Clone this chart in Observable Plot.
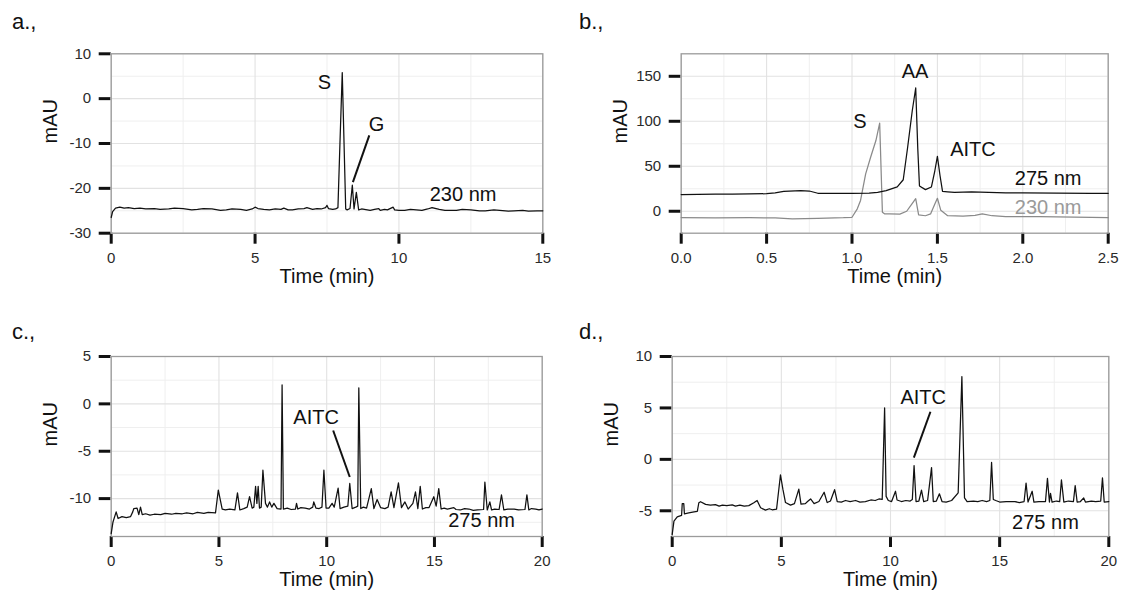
<!DOCTYPE html>
<html>
<head>
<meta charset="utf-8">
<script src="https://cdn.jsdelivr.net/npm/d3@7"></script>
<script src="https://cdn.jsdelivr.net/npm/@observablehq/plot@0.6"></script>
<style>
  html, body { margin: 0; padding: 0; background: #fff; }
  #root { position: relative; width: 1123px; height: 596px; overflow: hidden; background: #fff;
          font-family: "Liberation Sans", Arial, sans-serif; }
  .cell { position: absolute; }
  .plabel { position: absolute; font-size: 22px; line-height: 22px; color: #111; }
  #root svg g[aria-label="x-axis tick"] path, #root svg g[aria-label="y-axis tick"] path { stroke-width: 3px; stroke: #111; }
  #root svg g[aria-label="x-axis tick label"] text, #root svg g[aria-label="y-axis tick label"] text { font-size: 15px; fill: #2a2a2a; }
</style>
</head>
<body>
<div id="root"></div>
<script>
// ---------------- Data ----------------
// Panel a: 230 nm chromatogram
const aTime = [0, 0.05, 0.15, 0.3, 0.45, 0.6, 0.8, 1.0, 1.2, 1.5, 1.7, 2.0, 2.2, 2.5, 2.8, 3.0, 3.2, 3.5, 3.8, 4.0, 4.2, 4.5, 4.7, 4.9, 5.0, 5.1, 5.3, 5.5, 5.7, 5.9, 6.0, 6.15, 6.3, 6.5, 6.7, 6.8, 7.0, 7.15, 7.3, 7.45, 7.5, 7.55, 7.7, 7.8, 7.88, 7.95, 8.03, 8.15, 8.2, 8.3, 8.38, 8.44, 8.52, 8.6, 8.7, 8.8, 9.0, 9.15, 9.3, 9.35, 9.5, 9.6, 9.8, 9.85, 10.0, 10.2, 10.4, 10.6, 10.8, 11.0, 11.15, 11.4, 11.6, 12.0, 12.2, 12.5, 12.8, 13.0, 13.3, 13.5, 13.8, 14.0, 14.3, 14.5, 14.8, 15.0];
const aMAU  = [-26.5, -25.2, -24.4, -24.2, -24.4, -24.3, -24.5, -24.4, -24.6, -24.5, -24.7, -24.6, -24.4, -24.5, -24.8, -24.7, -24.5, -24.6, -24.9, -24.8, -24.6, -24.7, -24.9, -24.6, -24.2, -24.5, -24.7, -24.8, -24.6, -24.7, -24.4, -24.8, -24.8, -24.6, -24.5, -24.3, -24.7, -24.5, -24.6, -24.3, -23.8, -24.5, -24.7, -24.6, -24.3, -10, 5.8, -24.6, -24.8, -24.5, -19.3, -24.6, -20.9, -24.8, -24.6, -24.7, -24.9, -24.7, -24.5, -24.9, -24.7, -24.8, -24.2, -24.8, -24.9, -24.9, -24.7, -24.8, -24.9, -24.6, -24.3, -24.7, -24.9, -24.9, -24.7, -24.8, -25.0, -25.0, -24.8, -24.9, -25.1, -25.0, -24.9, -25.1, -25.0, -25.0];

// Panel b: 275 nm (black) and 230 nm (grey)
const b275Time = [0, 0.1, 0.2, 0.3, 0.4, 0.5, 0.55, 0.6, 0.7, 0.75, 0.8, 0.9, 1.0, 1.1, 1.15, 1.2, 1.265, 1.3, 1.325, 1.353, 1.373, 1.385, 1.395, 1.43, 1.465, 1.485, 1.5, 1.515, 1.53, 1.56, 1.6, 1.7, 1.8, 1.9, 2.0, 2.2, 2.4, 2.5];
const b275MAU  = [18.5, 18.8, 18.9, 19.0, 19.2, 19.5, 20.5, 22, 23, 22.5, 20, 19.8, 19.8, 20.2, 21, 23, 27, 35, 70, 112, 137, 70, 28, 24, 27, 45, 61, 40, 22, 21.5, 21, 21.5, 21, 20.5, 20.5, 20.2, 20, 20];
const b230Time = [0, 0.2, 0.4, 0.55, 0.65, 0.8, 0.95, 1.0, 1.031, 1.05, 1.08, 1.109, 1.14, 1.162, 1.178, 1.19, 1.22, 1.28, 1.32, 1.35, 1.373, 1.39, 1.43, 1.46, 1.485, 1.5, 1.52, 1.56, 1.65, 1.72, 1.763, 1.82, 1.9, 2.1, 2.3, 2.5];
const b230MAU  = [-7, -7.3, -7.2, -7.5, -8.4, -8, -7.2, -6.7, 2.7, 12, 41.5, 60, 78.6, 98, -1, -2.8, -3, -3.2, 0, 8, 14, -4, -5, -3, 8, 14.4, 1, -5, -5.5, -4.5, -2.9, -5, -6, -6, -6.5, -7];

// Panel c: 275 nm
const cTime = [0, 0.08, 0.23, 0.32, 0.5, 0.7, 0.9, 1.0, 1.05, 1.2, 1.28, 1.36, 1.44, 1.6, 1.8, 2.0, 2.3, 2.5, 2.8, 3.0, 3.3, 3.5, 3.8, 4.0, 4.3, 4.5, 4.84, 4.97, 5.15, 5.3, 5.5, 5.74, 5.86, 5.97, 6.15, 6.31, 6.42, 6.54, 6.62, 6.70, 6.76, 6.82, 6.88, 6.96, 7.04, 7.16, 7.25, 7.35, 7.45, 7.55, 7.7, 7.88, 7.93, 7.99, 8.17, 8.35, 8.55, 8.6, 8.66, 8.8, 9.0, 9.2, 9.35, 9.4, 9.5, 9.65, 9.78, 9.87, 9.97, 10.1, 10.25, 10.35, 10.53, 10.62, 10.8, 10.98, 11.07, 11.18, 11.35, 11.44, 11.49, 11.58, 11.7, 11.85, 12.07, 12.19, 12.34, 12.5, 12.7, 12.85, 12.99, 13.12, 13.33, 13.47, 13.63, 13.78, 14.0, 14.12, 14.23, 14.34, 14.44, 14.6, 14.75, 14.97, 15.08, 15.2, 15.31, 15.45, 15.6, 15.9, 16.0, 16.2, 16.4, 16.6, 16.8, 17.0, 17.28, 17.34, 17.45, 17.57, 17.65, 17.8, 18.0, 18.11, 18.22, 18.4, 18.7, 18.9, 19.2, 19.29, 19.38, 19.5, 19.7, 19.85, 20];
const cMAU  = [-13.7, -12.5, -11.4, -12.1, -11.9, -12.0, -11.9, -11.4, -11.05, -11.0, -11.7, -10.9, -11.7, -11.6, -11.75, -11.65, -11.7, -11.55, -11.65, -11.55, -11.6, -11.5, -11.6, -11.45, -11.55, -11.45, -11.5, -9.1, -11.1, -11.2, -11.1, -11.2, -9.4, -11.2, -11.05, -10.9, -9.8, -11.0, -10.9, -8.7, -10.5, -8.7, -11.0, -10.9, -7.0, -10.5, -10.9, -10.35, -10.9, -10.5, -11.05, -11.1, 2.0, -11.1, -11.0, -11.15, -11.1, -10.5, -11.1, -10.95, -11.0, -11.1, -10.9, -10.35, -11.0, -11.05, -10.9, -7.0, -11.0, -11.0, -10.5, -10.9, -8.9, -11.05, -10.9, -10.8, -8.4, -11.05, -10.9, -10.8, 1.7, -11.05, -10.9, -11.0, -8.95, -11.05, -10.1, -10.95, -11.05, -10.9, -9.3, -10.95, -8.35, -10.95, -10.35, -11.1, -10.5, -9.3, -11.05, -8.7, -11.1, -10.95, -10.95, -9.8, -10.8, -8.95, -11.1, -11.0, -11.1, -10.95, -11.15, -11.2, -11.05, -11.1, -11.25, -11.2, -11.15, -8.25, -11.2, -10.35, -11.2, -11.1, -11.15, -9.6, -11.2, -11.1, -11.1, -11.2, -11.15, -9.6, -11.2, -11.05, -11.1, -11.2, -11.1];

// Panel d: 275 nm
const dTime = [0, 0.08, 0.23, 0.43, 0.46, 0.53, 0.56, 0.76, 1.0, 1.15, 1.22, 1.3, 1.53, 1.75, 1.98, 2.15, 2.3, 2.5, 2.75, 2.9, 3.1, 3.3, 3.51, 3.74, 3.89, 4.05, 4.27, 4.45, 4.58, 4.78, 4.96, 5.07, 5.19, 5.42, 5.6, 5.8, 5.9, 6.1, 6.2, 6.34, 6.5, 6.72, 6.96, 7.1, 7.25, 7.44, 7.56, 7.75, 7.94, 8.15, 8.4, 8.6, 8.85, 9.1, 9.3, 9.47, 9.62, 9.73, 9.8, 9.9, 10.05, 10.23, 10.3, 10.5, 10.7, 10.9, 11.0, 11.08, 11.17, 11.3, 11.42, 11.52, 11.7, 11.88, 11.96, 12.1, 12.24, 12.36, 12.55, 12.8, 13.1, 13.27, 13.39, 13.51, 13.8, 14.0, 14.2, 14.4, 14.55, 14.63, 14.71, 14.82, 15.0, 15.3, 15.7, 15.9, 16.12, 16.21, 16.3, 16.49, 16.57, 16.8, 17.1, 17.19, 17.28, 17.33, 17.4, 17.6, 17.75, 17.83, 17.94, 18.15, 18.38, 18.46, 18.55, 18.7, 18.85, 18.93, 19.2, 19.4, 19.63, 19.71, 19.79, 20];
const dMAU  = [-7.3, -6.0, -5.6, -5.45, -4.3, -4.3, -5.3, -5.2, -5.1, -5.06, -4.22, -4.12, -4.38, -4.45, -4.4, -4.55, -4.45, -4.5, -4.42, -4.55, -4.45, -4.55, -4.5, -4.22, -4.0, -4.7, -4.94, -4.8, -4.9, -4.85, -1.5, -2.9, -4.2, -4.45, -4.3, -2.9, -4.35, -4.3, -4.1, -3.85, -4.3, -4.1, -3.2, -4.2, -4.05, -2.95, -4.1, -4.15, -4.0, -4.1, -4.0, -4.15, -4.1, -3.95, -4.0, -3.85, -3.9, 5.0, -3.6, -4.0, -4.1, -3.1, -3.95, -4.1, -4.0, -4.05, -3.9, -0.6, -4.1, -4.05, -3.0, -4.1, -4.0, -0.8, -4.1, -4.05, -3.35, -4.1, -4.15, -4.0, -3.25, 8.05, -3.75, -4.1, -4.05, -4.1, -4.0, -4.1, -4.0, -0.3, -3.9, -4.0, -4.15, -4.1, -4.1, -4.2, -4.1, -2.3, -4.15, -3.1, -4.15, -4.1, -4.1, -1.85, -4.15, -3.3, -4.15, -4.05, -4.1, -2.0, -4.15, -4.05, -4.1, -2.55, -4.15, -4.1, -3.75, -4.15, -4.05, -4.1, -4.05, -1.8, -4.15, -4.1];

// Tick values
const aXTicks = [0, 5, 10, 15];
const aYTicks = [-30, -20, -10, 0, 10];
const bXTicks = [0, 0.5, 1.0, 1.5, 2.0, 2.5];
const bYTicks = [0, 50, 100, 150];
const cXTicks = [0, 5, 10, 15, 20];
const cYTicks = [-10, -5, 0, 5];
const dXTicks = [0, 5, 10, 15, 20];
const dYTicks = [-5, 0, 5, 10];
// Minor grid values
const aXMinor = [2.5, 7.5, 12.5];
const aYMinor = [-25, -15, -5, 5];
const bXMinor = [0.25, 0.75, 1.25, 1.75, 2.25];
const bYMinor = [25, 75, 125];
const cXMinor = [2.5, 7.5, 12.5, 17.5];
const cYMinor = [-12.5, -7.5, -2.5, 2.5];
const dXMinor = [2.5, 7.5, 12.5, 17.5];
const dYMinor = [-2.5, 2.5, 7.5];

// Annotations (data coordinates)
const aLabels = [{t: 7.41, v: 3.67, text: "S"}, {t: 9.22, v: -5.83, text: "G"}];
const aPointers = [{t1: 8.97, v1: -8.2, t2: 8.40, v2: -18.6}];
const aWave = [{t: 11.07, v: -21.45, text: "230 nm"}];
const bLabels = [{t: 1.046, v: 99.7, text: "S"}, {t: 1.369, v: 155.6, text: "AA"}, {t: 1.708, v: 68.2, text: "AITC"}];
const bWave275 = [{t: 1.953, v: 36, text: "275 nm"}];
const bWave230 = [{t: 1.953, v: 4.4, text: "230 nm"}];
const cLabels = [{t: 9.51, v: -1.41, text: "AITC"}];
const cPointers = [{t1: 10.3, v1: -2.81, t2: 11.07, v2: -7.72}];
const cWave = [{t: 15.64, v: -12.36, text: "275 nm"}];
const dLabels = [{t: 11.5, v: 6.0, text: "AITC"}];
const dPointers = [{t1: 11.83, v1: 4.63, t2: 11.07, v2: 0.16}];
const dWave = [{t: 15.57, v: -6.17, text: "275 nm"}];

const panelNames = ["a.,", "b.,", "c.,", "d.,"];
const xTitle = "Time (min)";
const yTitle = "mAU";

// ---------------- Drawing ----------------
const toRows = (ts, vs) => ts.map((t, i) => ({t, v: vs[i]}));
const FONT = "'Liberation Sans', Arial, sans-serif";

function panel(cfg) {
  const marks = [
    Plot.ruleX(cfg.xMinor, {stroke: "#efefef", strokeWidth: 1}),
    Plot.ruleY(cfg.yMinor, {stroke: "#efefef", strokeWidth: 1}),
    Plot.ruleX(cfg.xTicks, {stroke: "#e2e2e2", strokeWidth: 1.1}),
    Plot.ruleY(cfg.yTicks, {stroke: "#e2e2e2", strokeWidth: 1.1}),
    Plot.frame({stroke: "#9b9b9b", strokeWidth: 1.3}),
    Plot.text([xTitle], {text: d => d, frameAnchor: "bottom", dy: 49.5, fontSize: 20, fill: "#111"}),
    Plot.text([yTitle], {text: d => d, frameAnchor: "left", dx: -61, rotate: -90, fontSize: 20, fill: "#111"}),
  ];
  for (const s of cfg.series) {
    marks.push(Plot.line(s.rows, {x: "t", y: "v", stroke: s.color, strokeWidth: 1.25, curve: "linear"}));
  }
  if (cfg.pointers) marks.push(Plot.link(cfg.pointers, {x1: "t1", y1: "v1", x2: "t2", y2: "v2", stroke: "#111", strokeWidth: 2}));
  for (const l of cfg.labels) {
    marks.push(Plot.text(l.data, {x: "t", y: "v", text: "text", fontSize: 20, fill: l.color || "#111", textAnchor: l.anchor || "middle"}));
  }
  return Plot.plot({
    width: cfg.w, height: cfg.h,
    marginLeft: cfg.ml, marginRight: cfg.mr, marginTop: cfg.mt, marginBottom: cfg.mb,
    x: {domain: cfg.xDomain, ticks: cfg.xTicks, tickSize: 11, tickPadding: 8, label: null,
        tickFormat: cfg.xFormat || (d => String(d))},
    y: {domain: cfg.yDomain, ticks: cfg.yTicks, tickSize: 12, tickPadding: 8, label: null,
        tickFormat: d => String(d)},
    style: {fontFamily: FONT, background: "white", overflow: "visible", fontSize: "15px"},
    marks
  });
}

const root = document.getElementById("root");
function place(node, left, top) {
  const d = document.createElement("div");
  d.className = "cell";
  d.style.left = left + "px";
  d.style.top = top + "px";
  d.appendChild(node);
  root.appendChild(d);
  node.querySelectorAll('g[aria-label="x-axis tick"], g[aria-label="y-axis tick"]').forEach(g => {
    g.setAttribute("stroke-width", "3");
    g.setAttribute("stroke", "#111");
  });
  node.querySelectorAll('g[aria-label="x-axis tick label"], g[aria-label="y-axis tick label"]').forEach(g => {
    g.setAttribute("font-size", "15");
    g.setAttribute("fill", "#2a2a2a");
  });
}

place(panel({
  w: 560, h: 298, ml: 110.7, mr: 17.7, mt: 53.3, mb: 65.3,
  xDomain: [0, 15], yDomain: [-30, 10],
  xTicks: aXTicks, yTicks: aYTicks, xMinor: aXMinor, yMinor: aYMinor,
  series: [{rows: toRows(aTime, aMAU), color: "#111"}],
  pointers: aPointers,
  labels: [{data: aLabels}, {data: aWave, anchor: "start"}]
}), 0, 0);

place(panel({
  w: 563, h: 298, ml: 120.7, mr: 15.3, mt: 53.3, mb: 65.3,
  xDomain: [0, 2.5], yDomain: [-24.4, 175],
  xTicks: bXTicks, yTicks: bYTicks, xMinor: bXMinor, yMinor: bYMinor,
  xFormat: d => d.toFixed(1),
  series: [{rows: toRows(b230Time, b230MAU), color: "#8a8a8a"}, {rows: toRows(b275Time, b275MAU), color: "#111"}],
  labels: [{data: bLabels}, {data: bWave275, anchor: "start"}, {data: bWave230, anchor: "start", color: "#9a9a9a"}]
}), 560, 0);

place(panel({
  w: 560, h: 298, ml: 110.7, mr: 18.3, mt: 58, mb: 60,
  xDomain: [0, 20], yDomain: [-14, 5],
  xTicks: cXTicks, yTicks: cYTicks, xMinor: cXMinor, yMinor: cYMinor,
  series: [{rows: toRows(cTime, cMAU), color: "#111"}],
  pointers: cPointers,
  labels: [{data: cLabels}, {data: cWave, anchor: "start"}]
}), 0, 298);

place(panel({
  w: 563, h: 298, ml: 111.7, mr: 14.7, mt: 58, mb: 60,
  xDomain: [0, 20], yDomain: [-7.5, 10],
  xTicks: dXTicks, yTicks: dYTicks, xMinor: dXMinor, yMinor: dYMinor,
  series: [{rows: toRows(dTime, dMAU), color: "#111"}],
  pointers: dPointers,
  labels: [{data: dLabels}, {data: dWave, anchor: "start"}]
}), 560, 298);

// Panel letters
const letterPos = [[12, 11], [579, 11], [12, 321], [579, 321]];
panelNames.forEach((name, i) => {
  const el = document.createElement("div");
  el.className = "plabel";
  el.textContent = name;
  el.style.left = letterPos[i][0] + "px";
  el.style.top = letterPos[i][1] + "px";
  root.appendChild(el);
});
</script>
</body>
</html>
